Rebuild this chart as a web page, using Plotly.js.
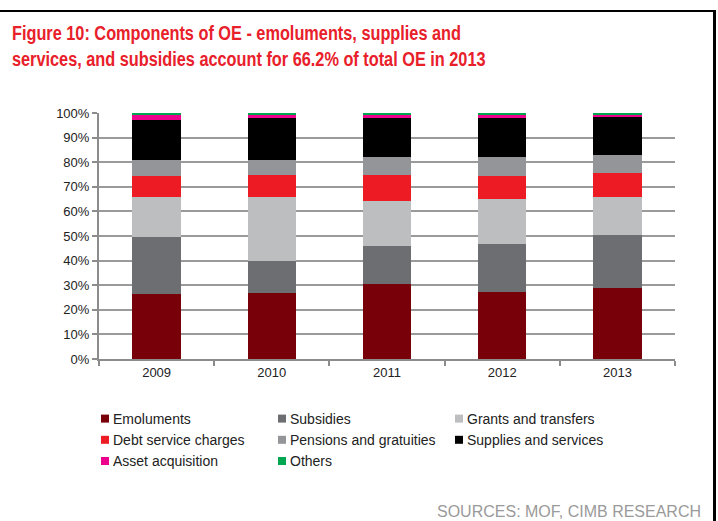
<!DOCTYPE html>
<html>
<head>
<meta charset="utf-8">
<script src="https://cdn.plot.ly/plotly-3.0.1.min.js"></script>
<style>
  html, body { margin: 0; padding: 0; background: #fff; }
  #wrap { position: relative; width: 718px; height: 521px; overflow: hidden; }
  #chart { position: absolute; left: 0; top: 0; width: 718px; height: 521px; }
  #frame { position: absolute; left: -4px; top: 10px; width: 720px; height: 530px;
           box-sizing: border-box; border-top: 2px solid #000; border-right: 3px solid #000;
           pointer-events: none; }
</style>
</head>
<body>
<div id="wrap">
  <div id="chart"></div>
  <div id="frame"></div>
</div>
<script>
// Categories (years)
var years = ['2009', '2010', '2011', '2012', '2013'];

// Shares of total operating expenditure (%)
var emoluments   = [26.3, 26.8, 30.6, 27.2, 28.7];
var subsidies    = [23.1, 12.9, 15.4, 19.7, 21.6];
var grants       = [16.6, 26.0, 18.4, 18.0, 15.7];
var debtService  = [8.4, 9.1, 10.4, 9.5, 9.8];
var pensions     = [6.6, 6.2, 7.2, 7.6, 7.2];
var supplies     = [16.3, 16.8, 15.8, 15.8, 15.4];
var assetAcq     = [1.9, 1.4, 1.4, 1.4, 0.9];
var others       = [0.8, 0.8, 0.8, 0.8, 0.7];

var seriesNames = ['Emoluments', 'Subsidies', 'Grants and transfers',
                   'Debt service charges', 'Pensions and gratuities', 'Supplies and services',
                   'Asset acquisition', 'Others'];
var seriesValues = [emoluments, subsidies, grants, debtService, pensions, supplies, assetAcq, others];
var seriesColors = ['#780008', '#6d6e71', '#bcbec0', '#ed1c24', '#939598', '#000000', '#ec008c', '#00a650'];

// Y-axis ticks
var yTickVals   = [0, 10, 20, 30, 40, 50, 60, 70, 80, 90, 100];
var yTickLabels = ['0%', '10%', '20%', '30%', '40%', '50%', '60%', '70%', '80%', '90%', '100%'];

var traces = seriesNames.map(function (name, i) {
  return {
    type: 'bar',
    name: name,
    x: years,
    y: seriesValues[i],
    marker: { color: seriesColors[i], line: { width: 0 } },
    hoverinfo: 'x+y+name'
  };
});

var W = 718, H = 521;
var plotL = 99, plotR = 675, plotT = 113, plotB = 359;
function px2paperX(px) { return (px - plotL) / (plotR - plotL); }
function px2paperY(py) { return (plotB - py) / (plotB - plotT); }

var layout = {
  width: W,
  height: H,
  margin: { l: plotL, r: W - plotR, t: plotT, b: H - plotB, pad: 0 },
  paper_bgcolor: '#ffffff',
  plot_bgcolor: '#ffffff',
  barmode: 'stack',
  bargap: 0.58,
  font: { family: 'Liberation Sans, Arial, sans-serif', size: 13, color: '#222222' },
  title: {
    text: 'Figure 10: Components of OE - emoluments, supplies and<br>services, and subsidies account for 66.2% of total OE in 2013',
    font: { family: 'Liberation Sans, Arial, sans-serif', size: 20, color: '#e8202a', weight: 'bold' },
    x: 12 / W,
    xanchor: 'left',
    xref: 'container',
    y: 1 - 40 / H,
    yanchor: 'top',
    yref: 'container'
  },
  xaxis: {
    type: 'category',
    showline: true,
    linecolor: '#8c8c8c',
    linewidth: 2,
    ticks: 'outside',
    tickson: 'boundaries',
    ticklen: 5,
    tickwidth: 2,
    tickcolor: '#8c8c8c',
    showgrid: false,
    zeroline: false,
    tickfont: { size: 13, color: '#222222' },
    fixedrange: true
  },
  yaxis: {
    range: [0, 100],
    tickmode: 'array',
    tickvals: yTickVals,
    ticktext: yTickLabels,
    showline: true,
    linecolor: '#8c8c8c',
    linewidth: 2,
    ticks: 'outside',
    ticklen: 5,
    tickwidth: 2,
    tickcolor: '#8c8c8c',
    showgrid: true,
    gridcolor: '#9a9a9a',
    gridwidth: 2,
    zeroline: false,
    tickfont: { size: 13, color: '#222222' },
    fixedrange: true
  },
  showlegend: true,
  legend: {
    orientation: 'h',
    traceorder: 'normal',
    x: px2paperX(73),
    xanchor: 'left',
    y: px2paperY(403),
    yanchor: 'top',
    entrywidth: 132,
    entrywidthmode: 'pixels',
    itemwidth: 30,
    font: { size: 14, color: '#222222' },
    bgcolor: 'rgba(0,0,0,0)'
  },
  annotations: [{
    text: 'SOURCES: MOF, CIMB RESEARCH',
    xref: 'paper', yref: 'paper',
    x: px2paperX(703), xanchor: 'right',
    y: px2paperY(511), yanchor: 'middle',
    showarrow: false,
    font: { size: 16, color: '#9a9a9a' }
  }]
};

Plotly.newPlot('chart', traces, layout, { displayModeBar: false, staticPlot: true }).then(function (gd) {
  // Condense the bold title horizontally (the original uses a narrow bold face)
  var t = gd.querySelector('.gtitle');
  if (t) {
    var x0 = parseFloat(t.getAttribute('x')) || 12;
    t.setAttribute('transform', 'translate(' + x0 + ',0) scale(0.815,1) translate(' + (-x0) + ',0)');
  }
  // Smaller square legend swatches, placed close to the text as in the original
  var sw = gd.querySelectorAll('.legend .legendpoints path');
  sw.forEach(function (p) {
    p.setAttribute('d', 'M4,4H-4V-4H4Z');
    var tr = p.getAttribute('transform') || '';
    p.setAttribute('transform', tr + ' translate(12,0)');
  });
});
</script>
</body>
</html>
